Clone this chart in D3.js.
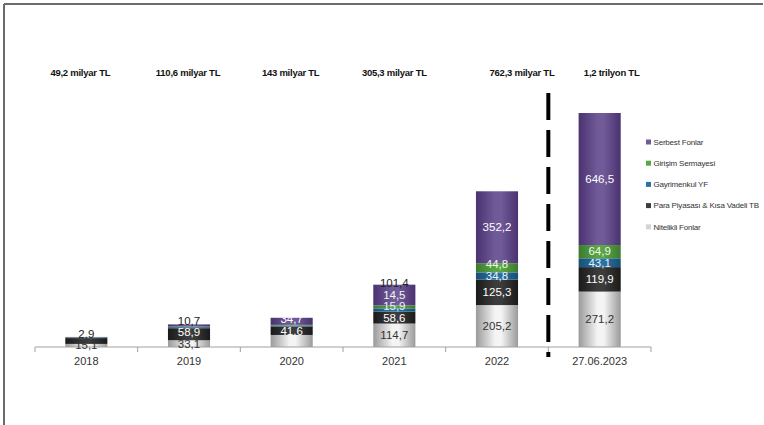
<!DOCTYPE html>
<html>
<head>
<meta charset="utf-8">
<script src="https://cdn.jsdelivr.net/npm/d3@7/dist/d3.min.js"></script>
<style>
  html, body { margin: 0; padding: 0; background: #fff; }
  svg { display: block; font-family: "Liberation Sans", Arial, sans-serif; }
</style>
</head>
<body>
<svg id="chart" width="764" height="425"></svg>
<script>
// Categories (years / date)
const categories = ["2018", "2019", "2020", "2021", "2022", "27.06.2023"];

// Fund types, stacked bottom to top
const seriesNames = ["Nitelikli Fonlar", "Para Piyasası & Kısa Vadeli TB", "Gayrimenkul YF", "Girişim Sermayesi", "Serbest Fonlar"];

// Values (milyar TL) per fund type
const nitelikli    = [15.1, 33.1, 59.0, 114.7, 205.2, 271.2];
const paraPiyasasi = [28.5, 58.9, 41.6, 58.6, 125.3, 119.9];
const gayrimenkul  = [2.9, 5.1, 4.6, 15.9, 34.8, 43.1];
const girisim      = [1.1, 2.8, 3.1, 14.5, 44.8, 64.9];
const serbest      = [1.6, 10.7, 34.7, 101.4, 352.2, 646.5];

// Totals printed above each column
const totalLabels = ["49,2 milyar TL", "110,6 milyar TL", "143 milyar TL", "305,3 milyar TL", "762,3 milyar TL", "1,2 trilyon TL"];

// Segments whose value is not printed: [category index, series index]
const unlabeled = [[0, 1], [0, 3], [0, 4], [1, 2], [1, 3], [2, 0], [2, 2], [2, 3]];

const seriesValues = [nitelikli, paraPiyasasi, gayrimenkul, girisim, serbest];

// Styling
const seriesColors = [
  { edge: "#9a9a9a", mid: "#f4f4f4", text: "#333" },
  { edge: "#1a1a1a", mid: "#3c3c3c", text: "#fff" },
  { edge: "#174f78", mid: "#2a72a4", text: "#e8f2fa" },
  { edge: "#3c7a2e", mid: "#5aa646", text: "#f0f8ec" },
  { edge: "#4b3270", mid: "#705a98", text: "#fff" }
];
const totalLabelDx = [-6, -1, -1, 0, 25, 12];

const svg = d3.select("#chart");

// Frame lines (top and left)
svg.append("line").attr("x1", 4).attr("y1", 4).attr("x2", 763).attr("y2", 4)
  .attr("stroke", "#6b6b6b").attr("stroke-width", 2);
svg.append("line").attr("x1", 4).attr("y1", 4).attr("x2", 4).attr("y2", 425)
  .attr("stroke", "#6b6b6b").attr("stroke-width", 2);

// Gradients giving each bar a cylindrical shading
const defs = svg.append("defs");
seriesColors.forEach((c, i) => {
  const g = defs.append("linearGradient").attr("id", "grad" + i)
    .attr("x1", "0%").attr("x2", "100%").attr("y1", "0%").attr("y2", "0%");
  g.append("stop").attr("offset", "0%").attr("stop-color", c.edge);
  g.append("stop").attr("offset", "45%").attr("stop-color", c.mid);
  g.append("stop").attr("offset", "60%").attr("stop-color", c.mid);
  g.append("stop").attr("offset", "100%").attr("stop-color", c.edge);
});

// Build table for the stack
const table = categories.map((cat, i) => {
  const row = { cat };
  seriesNames.forEach((s, j) => row[s] = seriesValues[j][i]);
  return row;
});
const stacked = d3.stack().keys(seriesNames)(table);

const axisY = 347;
const x = d3.scaleBand().domain(categories).range([35, 651]).paddingInner(0.59).paddingOuter(0.295);
const maxTotal = d3.max(table, r => d3.sum(seriesNames, s => r[s]));
const y = d3.scaleLinear().domain([0, maxTotal]).range([axisY, 113]);

// Bars
stacked.forEach((layer, j) => {
  svg.append("g").selectAll("rect").data(layer).join("rect")
    .attr("x", d => x(d.data.cat))
    .attr("width", x.bandwidth())
    .attr("y", d => y(d[1]))
    .attr("height", d => y(d[0]) - y(d[1]))
    .attr("fill", "url(#grad" + j + ")");
});

// Axis line with boundary ticks
const axisG = svg.append("g").attr("transform", `translate(0,${axisY})`);
axisG.call(d3.axisBottom(x).tickSize(0).tickPadding(10));
axisG.select(".domain").attr("stroke", "#a0a0a0").attr("d", `M${x.range()[0]},0H${x.range()[1]}`);
axisG.selectAll(".tick text").attr("font-size", 11).attr("fill", "#333")
  .attr("font-family", "'Liberation Sans', Arial, sans-serif");
d3.range(categories.length + 1).forEach(i => {
  const bx = x.range()[0] + i * x.step();
  axisG.append("line").attr("x1", bx).attr("x2", bx).attr("y1", 0).attr("y2", 5).attr("stroke", "#a0a0a0");
});

// Dashed divider before the latest date
const divX = x.range()[0] + (categories.length - 1) * x.step();
svg.append("line").attr("x1", divX).attr("x2", divX).attr("y1", 93).attr("y2", 357)
  .attr("stroke", "#000").attr("stroke-width", 4).attr("stroke-dasharray", "27,10");

// Segment value labels, centred and nudged up when they would collide
const isHidden = (i, j) => unlabeled.some(u => u[0] === i && u[1] === j);
const fmt = v => String(v).replace(".", ",");
categories.forEach((cat, i) => {
  let prevY = Infinity;
  const barTop = y(d3.sum(seriesValues, s => s[i]));
  seriesNames.forEach((s, j) => {
    if (isHidden(i, j)) return;
    const seg = stacked[j][i];
    const cy = Math.min((y(seg[0]) + y(seg[1])) / 2, prevY - 11.5);
    prevY = cy;
    const above = cy < barTop - 1;
    svg.append("text")
      .attr("x", x(cat) + x.bandwidth() / 2)
      .attr("y", cy)
      .attr("dy", "0.35em")
      .attr("text-anchor", "middle")
      .attr("font-size", 11.5)
      .attr("fill", above ? "#222" : seriesColors[j].text)
      .text(fmt(seriesValues[j][i]));
  });
});

// Totals above the columns
svg.append("g").selectAll("text").data(totalLabels).join("text")
  .attr("x", (d, i) => x(categories[i]) + x.bandwidth() / 2 + totalLabelDx[i])
  .attr("y", 76)
  .attr("text-anchor", "middle")
  .attr("font-size", 9.5)
  .attr("font-weight", "bold")
  .attr("letter-spacing", -0.25)
  .attr("fill", "#111")
  .text(d => d);

// Legend, top entry is the top of the stack
const legendItems = seriesNames.map((n, j) => ({ n, j })).reverse();
const lg = svg.append("g").attr("transform", "translate(646,142)");
legendItems.forEach((it, k) => {
  const gy = k * 21.2;
  lg.append("rect").attr("x", 0).attr("y", gy - 2.5).attr("width", 5).attr("height", 5)
    .attr("fill", it.j === 0 ? "#d4d4d4" : seriesColors[it.j].mid);
  lg.append("text").attr("x", 7.5).attr("y", gy).attr("dy", "0.35em")
    .attr("font-size", 8).attr("letter-spacing", -0.2).attr("fill", "#333").text(it.n);
});
</script>
</body>
</html>
